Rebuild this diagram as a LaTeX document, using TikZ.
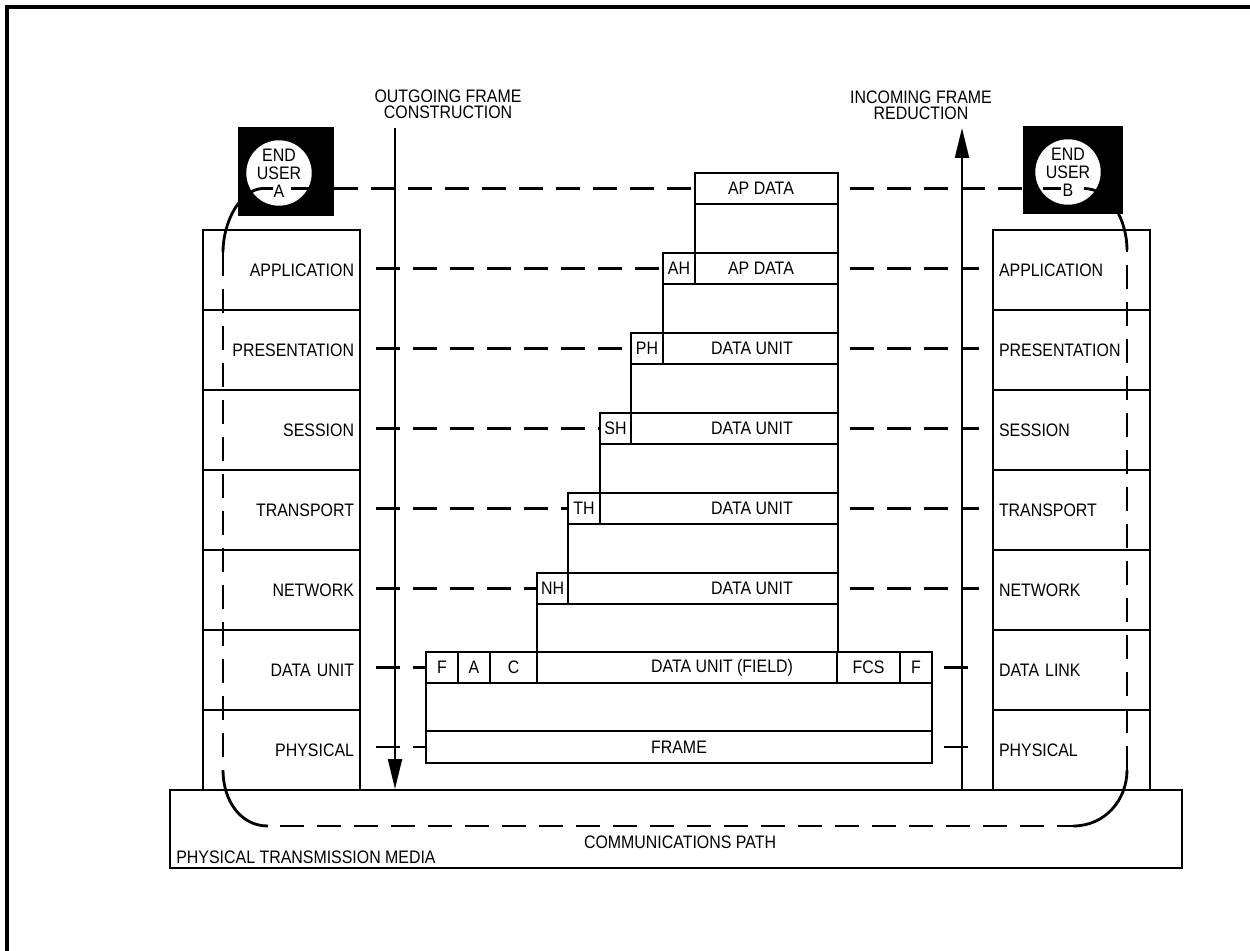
\documentclass[tikz,border=0pt]{standalone}
\usepackage{fontspec}
\setmainfont{Liberation Sans}[FakeStretch=0.88]
\usetikzlibrary{arrows.meta}
\def\pxu{0.02cm}
\newcommand\lab{\fontsize{10.3}{10.2}\selectfont}
\newcommand\hlab{\fontsize{10.3}{9.2}\selectfont}
\newcommand\cell[6]{\node[box, minimum width={(#4-#2)*\pxu}, minimum height={(#5-#3)*\pxu}] (#1) at ({(#2+#4)/2},{(#3+#5)/2}) {#6};}
\newcommand\lrow[3]{\node[box, minimum height={80*\pxu}, text width={145*\pxu}, inner xsep={6*\pxu}, align=right] (#1) at (281.5,{#2+40}) {#3};}
\newcommand\rrow[3]{\node[box, minimum height={80*\pxu}, text width={145*\pxu}, inner xsep={6*\pxu}, align=left] (#1) at (1071.5,{#2+40}) {#3};}
\begin{document}
\begin{tikzpicture}[x=0.02cm,y=-0.02cm,
  box/.style={draw, line width=1.1pt, inner sep=0pt, font=\lab},
  txt/.style={font=\lab, inner sep=0pt},
  dashline/.style={line width=1.6pt, dash pattern=on 0.48cm off 0.26cm},
  loopline/.style={line width=1.6pt},
  arr/.style={line width=1.2pt, -{Triangle[length=0.6cm,width=0.28cm]}}]
\useasboundingbox (0,0) rectangle (1250,950);
% outer frame
\draw[line width=1.8pt] (7,960) -- (7,7) -- (1260,7);

% physical transmission media
\node[box, minimum width={1012*\pxu}, minimum height={78*\pxu}] (media) at (676,829) {};
\node[txt] (cp) at (680,842) {COMMUNICATIONS PATH};
\node[txt, anchor=west] (ptm) at (176,857) {PHYSICAL TRANSMISSION MEDIA};

% left stack
\lrow{l1}{230}{APPLICATION}
\lrow{l2}{310}{PRESENTATION}
\lrow{l3}{390}{SESSION}
\lrow{l4}{470}{TRANSPORT}
\lrow{l5}{550}{NETWORK}
\lrow{l6}{630}{DATA UNIT}
\lrow{l7}{710}{PHYSICAL}
% right stack
\rrow{r1}{230}{APPLICATION}
\rrow{r2}{310}{PRESENTATION}
\rrow{r3}{390}{SESSION}
\rrow{r4}{470}{TRANSPORT}
\rrow{r5}{550}{NETWORK}
\rrow{r6}{630}{DATA LINK}
\rrow{r7}{710}{PHYSICAL}

% central frame construction
\cell{ap}{695}{173}{838}{204}{}
\node[txt] (apt) at (761,188.5) {AP DATA};
\cell{g0}{695}{204}{838}{253}{}
\cell{ah}{663}{253}{695}{284}{AH}
\cell{ahb}{695}{253}{838}{284}{}
\node[txt] (ahbt) at (761,268.5) {AP DATA};
\cell{g1}{663}{284}{838}{333}{}
\cell{ph}{631}{333}{663}{364}{PH}
\cell{phb}{663}{333}{838}{364}{}
\node[txt] (phbt) at (752,348.5) {DATA UNIT};
\cell{g2}{631}{364}{838}{413}{}
\cell{sh}{600}{413}{631}{444}{SH}
\cell{shb}{631}{413}{838}{444}{}
\node[txt] (shbt) at (752,428.5) {DATA UNIT};
\cell{g3}{600}{444}{838}{493}{}
\cell{th}{568}{493}{600}{524}{TH}
\cell{thb}{600}{493}{838}{524}{}
\node[txt] (thbt) at (752,508.5) {DATA UNIT};
\cell{g4}{568}{524}{838}{573}{}
\cell{nh}{537}{573}{568}{604}{NH}
\cell{nhb}{568}{573}{838}{604}{}
\node[txt] (nhbt) at (752,588.5) {DATA UNIT};
\cell{g5}{537}{604}{838}{652}{}
\cell{dlf}{426}{652}{458}{683}{F}
\cell{dla}{458}{652}{490}{683}{A}
\cell{dlc}{490}{652}{537}{683}{C}
\cell{dlu}{537}{652}{837}{683}{}
\node[txt] (dlut) at (722,667.5) {DATA UNIT (FIELD)};
\cell{dlfcs}{837}{652}{900}{683}{FCS}
\cell{dlf2}{900}{652}{932}{683}{F}
\cell{g6}{426}{683}{932}{731}{}
\cell{frame}{426}{731}{932}{763}{FRAME}

% end users
\node[fill=black, inner sep=0pt, minimum width={96*\pxu}, minimum height={89*\pxu}] (boxA) at (286,171.5) {};
\node[circle, fill=white, inner sep=0pt, minimum size={64*\pxu}, align=center, font=\lab] (cirA) at (279,173) {END\\USER\\A};
\node[fill=black, inner sep=0pt, minimum width={100*\pxu}, minimum height={88*\pxu}] (boxB) at (1073,170) {};
\node[circle, fill=white, inner sep=0pt, minimum size={64*\pxu}, align=center, font=\lab] (cirB) at (1068,172) {END\\USER\\B};

% dashed peer lines
\draw[dashline] (boxA.east |- ap.west) -- (ap.west);
\draw[dashline, shorten <=0.22cm] (ap.east) -- (ap.east -| boxB.west);
\foreach \a/\b in {l1/ah,l2/ph,l3/sh,l4/th,l5/nh,l6/dlf,l7/frame}
  \draw[dashline, shorten <=0.3cm] (\a.east |- \b.west) -- (\b.west);
\foreach \a/\b in {ahb/r1,phb/r2,shb/r3,thb/r4,nhb/r5,dlf2/r6,frame/r7}
  \draw[dashline, shorten <=0.22cm, shorten >=0.26cm] (\a.east) -- (\a.east -| \b.west);

% communications loop
\draw[loopline] (291,188.5) -- (311,188.5);
\draw[loopline] (1043,188.5) -- (1061,188.5);
\draw[loopline] (273,188.5) -- (262,188.5) .. controls (240,190) and (223,222) .. (223,252);
\draw[dashline] (223,252) -- (223,770);
\draw[loopline] (223,770) .. controls (223,800) and (240,826) .. (268,826);
\draw[dashline, shorten <=0.24cm] (268,826) -- (1073,826);
\draw[loopline] (1073,826) .. controls (1105,826) and (1127,800) .. (1127,770);
\draw[dashline] (1127,770) -- (1127,250);
\draw[loopline] (1127,250) .. controls (1127,220) and (1110,188.5) .. (1084,188.5);

% direction arrows
\node[txt, align=center, font=\hlab] (outl) at (448,104) {OUTGOING FRAME\\CONSTRUCTION};
\node[txt, align=center, font=\hlab] (inl) at (921,105) {INCOMING FRAME\\REDUCTION};
\coordinate (otop) at (395,128);
\coordinate (itop) at (962,128);
\draw[arr] (otop) -- (otop |- media.north);
\draw[arr] (itop |- media.north) -- (itop);
\end{tikzpicture}
\end{document}
